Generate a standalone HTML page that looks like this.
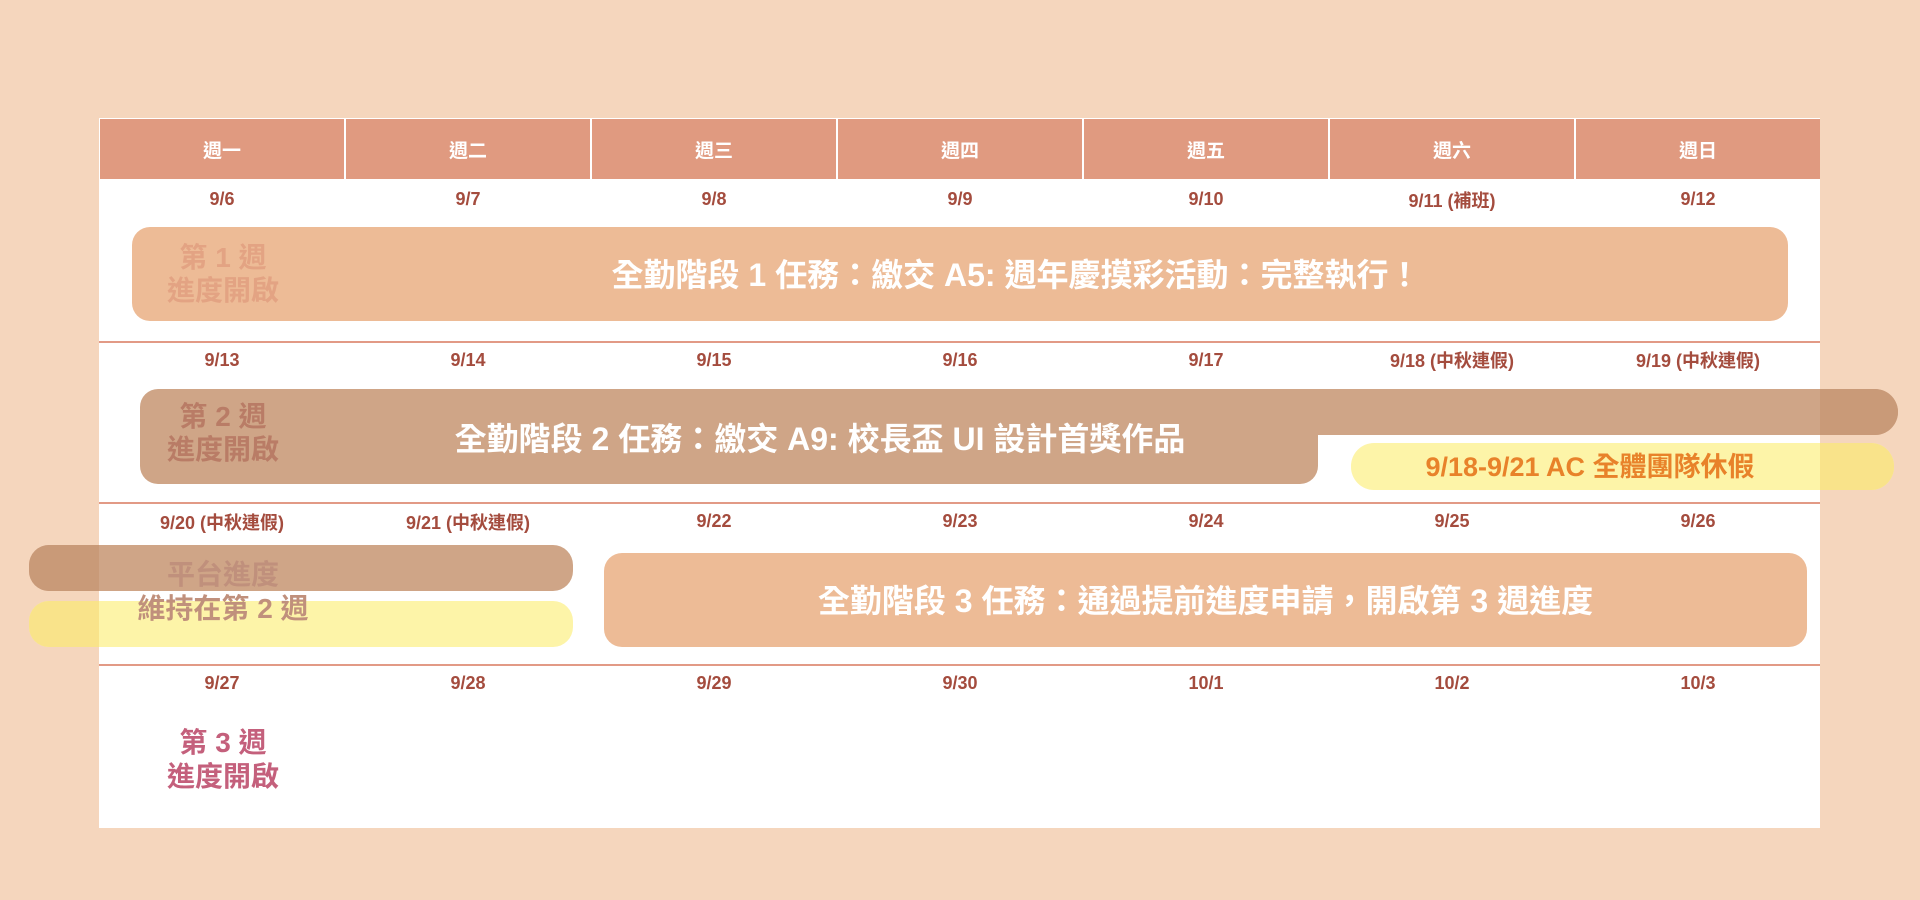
<!DOCTYPE html>
<html><head><meta charset="utf-8"><style>
body{margin:0;width:1920px;height:900px;background:#f5d6bd;position:relative;overflow:hidden;font-family:"Liberation Sans","Noto Sans CJK TC",sans-serif;font-weight:bold}
div{position:absolute;box-sizing:border-box}
.tbl{left:99px;top:118px;width:1721px;height:710px;background:#fff}
.hd{top:119px;height:60px;background:#e09a80;color:#fff;font-size:19px;display:flex;align-items:center;justify-content:center;border-right:2px solid #fff}
.dt{width:246px;text-align:center;color:#a44c3e;font-size:18px}
.ln{left:99px;width:1721px;height:2px;background:#e29a86}
.c{text-align:center;white-space:nowrap}
</style></head><body>
<div class="tbl"></div>
<div class="hd" style="left:100px;width:246px">週一</div>
<div class="hd" style="left:346px;width:246px">週二</div>
<div class="hd" style="left:592px;width:246px">週三</div>
<div class="hd" style="left:838px;width:246px">週四</div>
<div class="hd" style="left:1084px;width:246px">週五</div>
<div class="hd" style="left:1330px;width:246px">週六</div>
<div class="hd" style="left:1576px;width:244px;border-right:none">週日</div>

<div class="dt" style="left:99px;top:189px">9/6</div>
<div class="dt" style="left:345px;top:189px">9/7</div>
<div class="dt" style="left:591px;top:189px">9/8</div>
<div class="dt" style="left:837px;top:189px">9/9</div>
<div class="dt" style="left:1083px;top:189px">9/10</div>
<div class="dt" style="left:1329px;top:187px">9/11 (補班)</div>
<div class="dt" style="left:1575px;top:189px">9/12</div>

<div class="ln" style="top:341px"></div>
<div class="dt" style="left:99px;top:350px">9/13</div>
<div class="dt" style="left:345px;top:350px">9/14</div>
<div class="dt" style="left:591px;top:350px">9/15</div>
<div class="dt" style="left:837px;top:350px">9/16</div>
<div class="dt" style="left:1083px;top:350px">9/17</div>
<div class="dt" style="left:1329px;top:347px">9/18 (中秋連假)</div>
<div class="dt" style="left:1575px;top:347px">9/19 (中秋連假)</div>

<div class="ln" style="top:502px"></div>
<div class="dt" style="left:99px;top:509px">9/20 (中秋連假)</div>
<div class="dt" style="left:345px;top:509px">9/21 (中秋連假)</div>
<div class="dt" style="left:591px;top:511px">9/22</div>
<div class="dt" style="left:837px;top:511px">9/23</div>
<div class="dt" style="left:1083px;top:511px">9/24</div>
<div class="dt" style="left:1329px;top:511px">9/25</div>
<div class="dt" style="left:1575px;top:511px">9/26</div>

<div class="ln" style="top:664px"></div>
<div class="dt" style="left:99px;top:673px">9/27</div>
<div class="dt" style="left:345px;top:673px">9/28</div>
<div class="dt" style="left:591px;top:673px">9/29</div>
<div class="dt" style="left:837px;top:673px">9/30</div>
<div class="dt" style="left:1083px;top:673px">10/1</div>
<div class="dt" style="left:1329px;top:673px">10/2</div>
<div class="dt" style="left:1575px;top:673px">10/3</div>

<!-- bar 1 -->
<div style="left:132px;top:227px;width:1656px;height:94px;background:#edbb96;border-radius:18px"></div>
<div class="c" style="left:83px;top:241px;width:280px;color:#e3a383;font-size:28px;line-height:33px">第 1 週<br>進度開啟</div>
<div class="c" style="left:416px;top:250px;width:1200px;color:#fff;font-size:32px">全勤階段 1 任務：繳交 A5: 週年慶摸彩活動：完整執行！</div>

<!-- bar 2 -->
<div style="left:140px;top:389px;width:1178px;height:95px;background:#cfa587;border-radius:18px"></div>
<div style="left:1200px;top:389px;width:698px;height:46px;background:#cfa587;border-radius:0 23px 23px 0"></div>
<div style="left:1820px;top:389px;width:78px;height:46px;background:#c99a78;border-radius:0 23px 23px 0"></div>
<div class="c" style="left:83px;top:400px;width:280px;color:#b97c66;font-size:28px;line-height:33px">第 2 週<br>進度開啟</div>
<div class="c" style="left:420px;top:414px;width:800px;color:#fff;font-size:32px">全勤階段 2 任務：繳交 A9: 校長盃 UI 設計首獎作品</div>

<!-- yellow AC -->
<div style="left:1351px;top:443px;width:543px;height:47px;background:#fdf4a8;border-radius:23px"></div>
<div style="left:1820px;top:443px;width:74px;height:47px;background:#f9e38a;border-radius:0 23px 23px 0"></div>
<div class="c" style="left:1355px;top:445px;width:470px;color:#e8822a;font-size:27px">9/18-9/21 AC 全體團隊休假</div>

<!-- left bars -->
<div style="left:29px;top:545px;width:544px;height:46px;background:#cfa587;border-radius:20px"></div>
<div style="left:29px;top:545px;width:70px;height:46px;background:#c99a78;border-radius:20px 0 0 20px"></div>
<div style="left:29px;top:601px;width:544px;height:46px;background:#fdf4a8;border-radius:20px"></div>
<div style="left:29px;top:601px;width:70px;height:46px;background:#f9e38a;border-radius:20px 0 0 20px"></div>
<div class="c" style="left:83px;top:558px;width:280px;color:#c0907c;font-size:28px;line-height:34px">平台進度<br>維持在第 2 週</div>

<!-- bar 3 -->
<div style="left:604px;top:553px;width:1203px;height:94px;background:#edbb96;border-radius:18px"></div>
<div class="c" style="left:604px;top:576px;width:1203px;color:#fff;font-size:32px">全勤階段 3 任務：通過提前進度申請，開啟第 3 週進度</div>

<div class="c" style="left:83px;top:726px;width:280px;color:#c4607c;font-size:28px;line-height:34px">第 3 週<br>進度開啟</div>
</body></html>
